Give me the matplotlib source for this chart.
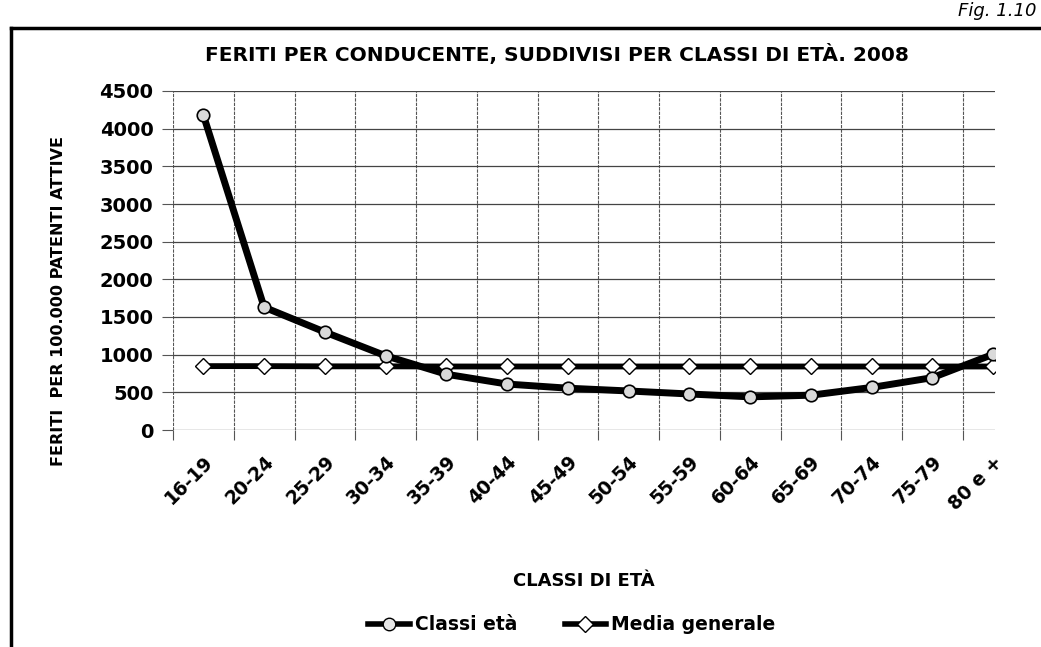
import numpy as np
import matplotlib
matplotlib.use('Agg')
import matplotlib.pyplot as plt
from matplotlib.lines import Line2D

# dati
classi = ['16-19', '20-24', '25-29', '30-34', '35-39', '40-44', '45-49',
          '50-54', '55-59', '60-64', '65-69', '70-74', '75-79', '80 e +']
feriti = [4180, 1630, 1300, 985, 740, 610, 555, 518, 478, 440, 462, 565, 695, 1005]
media = [848, 848, 845, 845, 843, 843, 843, 843, 843, 843, 843, 843, 843, 843]

plt.rcParams['font.family'] = ['DejaVu Sans']

fig = plt.figure(figsize=(10.41, 6.47), dpi=100)
ax = fig.add_axes([173/1041, 1-430/647, (995-173)/1041, (430-91)/647])

x = np.arange(len(classi))
ax.plot(x, media, color='black', lw=4.2, marker='D', ms=8.5,
        mfc='white', mec='black', mew=1.0, zorder=3)
ax.plot(x, feriti, color='black', lw=5.0, marker='o', ms=9,
        mfc='#d9d9d9', mec='black', mew=1.2, zorder=4)

ax.set_yticks(np.arange(0, 4501, 500))
ax.set_xticks(x)
ax.set_xticklabels(classi, rotation=45, ha='right', rotation_mode='anchor',
                   fontsize=13.5, fontweight='bold')
ax.set_xticks(np.arange(-0.5, 13.6, 1), minor=True)
ax.set_xlim(-0.5, 13.03)
ax.set_ylim(0, 4500)
for lbl in ax.get_yticklabels():
    lbl.set_fontsize(14)
    lbl.set_fontweight('bold')

ax.tick_params(axis='x', which='major', length=0, pad=16)
ax.tick_params(axis='x', which='minor', length=7, color='#555555', width=0.8)
ax.tick_params(axis='y', length=8, color='#555555', width=0.8, pad=6)

ax.grid(axis='y', color='#444444', lw=0.9)
ax.grid(axis='x', which='minor', color='#555555', lw=0.8, ls=(0, (3, 1)))
ax.set_axisbelow(True)
for s in ax.spines.values():
    s.set_visible(False)

ax.set_ylabel('FERITI  PER 100.000 PATENTI ATTIVE', fontsize=11.5,
              fontweight='bold')
ax.yaxis.set_label_coords(-0.13, 0.38)
ax.set_xlabel('CLASSI DI ETÀ', fontsize=13, fontweight='bold', labelpad=42)

fig.text(0.535, 1-55/647, 'FERITI PER CONDUCENTE, SUDDIVISI PER CLASSI DI ETÀ. 2008',
         ha='center', va='center', fontsize=14.5, fontweight='bold')

h1 = Line2D([], [], color='black', lw=4, marker='o', ms=9, mfc='#e6e6e6', mec='black')
h2 = Line2D([], [], color='black', lw=4, marker='D', ms=8, mfc='white', mec='black')
fig.legend([h1, h2], ['Classi età', 'Media generale'], loc='center',
           bbox_to_anchor=(572/1041, 1-625/647), ncol=2, frameon=False,
           prop={'size': 13.5, 'weight': 'bold'}, handlelength=2.2,
           columnspacing=2.5, handletextpad=0.3)

# cornice
ytop = 1 - 28/647
fig.add_artist(Line2D([11/1041, 11/1041], [0, ytop], color='black', lw=2.5,
                      transform=fig.transFigure))
fig.add_artist(Line2D([11/1041, 1], [ytop, ytop], color='black', lw=2.5,
                      transform=fig.transFigure))
fig.text(1036/1041, 1-2/647, 'Fig. 1.10', ha='right', va='top', fontsize=13,
         style='italic')

fig.savefig('out.png', dpi=100)
